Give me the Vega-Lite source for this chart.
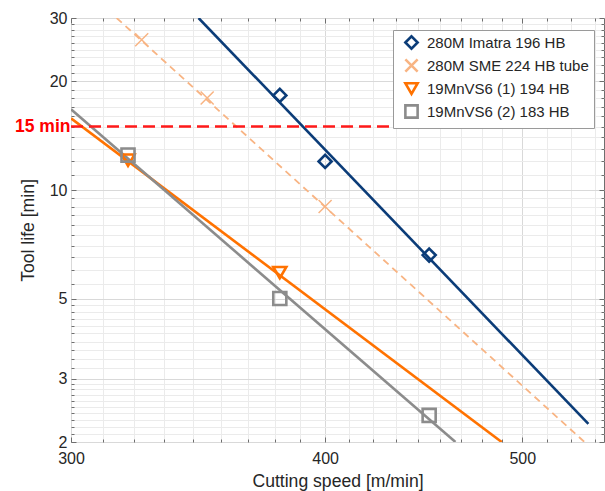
{
  "$schema": "https://vega.github.io/schema/vega-lite/v6.json",
  "width": 533,
  "height": 424,
  "autosize": "none",
  "padding": {"left": 71, "top": 18, "right": 1, "bottom": 49},
  "background": "white",
  "config": {
    "font": "Liberation Sans",
    "view": {"stroke": "#6e6e6e", "strokeWidth": 1},
    "axis": {
      "domain": false,
      "labelColor": "#262626",
      "titleColor": "#262626",
      "tickColor": "#6e6e6e",
      "labelFontSize": 16,
      "titleFontSize": 17.6,
      "titleFontWeight": "normal",
      "labelOverlap": false,
      "labelFlush": false,
      "labelBound": false
    }
  },
  "datasets": {
    "fits": [
      {"series": "280M Imatra 196 HB", "v": 346.6, "t": 30},
      {"series": "280M Imatra 196 HB", "v": 538.9, "t": 2.245},
      {"series": "280M SME 224 HB tube", "v": 315.9, "t": 30},
      {"series": "280M SME 224 HB tube", "v": 536.5, "t": 2},
      {"series": "19MnVS6 (1) 194 HB", "v": 300, "t": 15.8},
      {"series": "19MnVS6 (1) 194 HB", "v": 488.5, "t": 2},
      {"series": "19MnVS6 (2) 183 HB", "v": 300, "t": 16.74},
      {"series": "19MnVS6 (2) 183 HB", "v": 463.6, "t": 2}
    ],
    "obs": [
      {"series": "280M Imatra 196 HB", "v": 380, "t": 18.3},
      {"series": "280M Imatra 196 HB", "v": 400, "t": 12.0},
      {"series": "280M Imatra 196 HB", "v": 450, "t": 6.6},
      {"series": "280M SME 224 HB tube", "v": 325, "t": 26.1},
      {"series": "280M SME 224 HB tube", "v": 350, "t": 18.0},
      {"series": "280M SME 224 HB tube", "v": 400, "t": 9.0},
      {"series": "19MnVS6 (1) 194 HB", "v": 320, "t": 12.1},
      {"series": "19MnVS6 (1) 194 HB", "v": 380, "t": 5.9},
      {"series": "19MnVS6 (2) 183 HB", "v": 320, "t": 12.5},
      {"series": "19MnVS6 (2) 183 HB", "v": 380, "t": 5.0},
      {"series": "19MnVS6 (2) 183 HB", "v": 450, "t": 2.37}
    ],
    "ref": [{"v": 300, "v2": 450, "t": 15}]
  },
  "layer": [
    {
      "data": {"name": "fits"},
      "transform": [{"filter": "datum.series == '280M Imatra 196 HB'"}],
      "mark": {"type": "line", "strokeWidth": 2.6, "color": "#0b3c78", "clip": true},
      "encoding": {
        "x": {
          "field": "v", "type": "quantitative",
          "scale": {"type": "log", "domain": [300, 548.5], "nice": false},
          "axis": {
            "orient": "bottom",
            "title": "Cutting speed [m/min]",
            "values": [300,311.111,322.222,333.333,344.444,355.556,366.667,377.778,388.889,400,411.111,422.222,433.333,444.444,455.556,466.667,477.778,488.889,500,514.286,528.571,542.857],
            "labelExpr": "indexof([300,400,500], datum.value) >= 0 ? format(datum.value, 'd') : ''",
            "gridColor": {"condition": {"test": "indexof([300,400,500], datum.value) >= 0", "value": "#d9d9d9"}, "value": "#ebebeb"},
            "tickSize": {"condition": {"test": "indexof([300,400,500], datum.value) >= 0", "value": -5}, "value": -3},
            "labelPadding": 13,
            "titleX": 266.5,
            "titleY": 39,
            "titleBaseline": "middle"
          }
        },
        "y": {
          "field": "t", "type": "quantitative",
          "scale": {"type": "log", "domain": [2, 30], "nice": false},
          "axis": {
            "orient": "left",
            "title": "Tool life [min]",
            "values": [2,2.1,2.2,2.3,2.4,2.5,2.6,2.7,2.8,2.9,3,3.2,3.4,3.6,3.8,4,4.2,4.4,4.6,4.8,5,5.5,6,6.5,7,7.5,8,8.5,9,9.5,10,11,12,13,14,15,16,17,18,19,20,21.111,22.222,23.333,24.444,25.556,26.667,27.778,28.889,30],
            "labelExpr": "datum.value == 15 ? '15 min' : (indexof([2,3,5,10,20,30], datum.value) >= 0 ? format(datum.value, 'd') : '')",
            "labelColor": {"condition": {"test": "datum.value == 15", "value": "#ff0000"}, "value": "#262626"},
            "labelFontWeight": {"condition": {"test": "datum.value == 15", "value": "bold"}, "value": "normal"},
            "labelFontSize": {"condition": {"test": "datum.value == 15", "value": 17.5}, "value": 16},
            "labelPadding": {"condition": {"test": "datum.value == 15", "value": 4}, "value": 9},
            "gridColor": {"condition": {"test": "indexof([2,3,5,10,20,30], datum.value) >= 0", "value": "#d9d9d9"}, "value": "#ebebeb"},
            "tickSize": {"condition": {"test": "indexof([2,3,5,10,20,30], datum.value) >= 0", "value": -5}, "value": -3},
            "titleX": -43,
            "titleY": 212,
            "titleBaseline": "middle",
            "titleAngle": -90
          }
        }
      }
    },
    {
      "data": {"name": "fits"},
      "transform": [{"filter": "datum.series == '280M SME 224 HB tube'"}],
      "mark": {"type": "line", "strokeWidth": 1.8, "strokeDash": [7, 5], "color": "#f8b483", "clip": true},
      "encoding": {
        "x": {"field": "v", "type": "quantitative", "axis": null},
        "y": {"field": "t", "type": "quantitative", "axis": null}
      }
    },
    {
      "data": {"name": "fits"},
      "transform": [{"filter": "datum.series == '19MnVS6 (1) 194 HB'"}],
      "mark": {"type": "line", "strokeWidth": 2.6, "color": "#ff7200", "clip": true},
      "encoding": {
        "x": {"field": "v", "type": "quantitative", "axis": null},
        "y": {"field": "t", "type": "quantitative", "axis": null}
      }
    },
    {
      "data": {"name": "fits"},
      "transform": [{"filter": "datum.series == '19MnVS6 (2) 183 HB'"}],
      "mark": {"type": "line", "strokeWidth": 2.6, "color": "#8c8c8c", "clip": true},
      "encoding": {
        "x": {"field": "v", "type": "quantitative", "axis": null},
        "y": {"field": "t", "type": "quantitative", "axis": null}
      }
    },
    {
      "data": {"name": "ref"},
      "mark": {"type": "rule", "color": "#ff1a1a", "strokeWidth": 2.5, "strokeDash": [12, 6]},
      "encoding": {
        "x": {"field": "v", "type": "quantitative", "axis": null},
        "x2": {"field": "v2"},
        "y": {"field": "t", "type": "quantitative", "axis": null}
      }
    },
    {
      "data": {"name": "obs"},
      "mark": {"type": "point", "filled": false, "size": 170, "opacity": 1, "clip": true},
      "encoding": {
        "x": {
          "field": "v", "type": "quantitative",
          "axis": {
            "orient": "top", "labels": false, "grid": false, "title": null,
            "values": [300,311.111,322.222,333.333,344.444,355.556,366.667,377.778,388.889,400,411.111,422.222,433.333,444.444,455.556,466.667,477.778,488.889,500,514.286,528.571,542.857],
            "tickSize": {"condition": {"test": "indexof([300,400,500], datum.value) >= 0", "value": -5}, "value": -3}
          }
        },
        "y": {
          "field": "t", "type": "quantitative",
          "axis": {
            "orient": "right", "labels": false, "grid": false, "title": null,
            "values": [2,2.1,2.2,2.3,2.4,2.5,2.6,2.7,2.8,2.9,3,3.2,3.4,3.6,3.8,4,4.2,4.4,4.6,4.8,5,5.5,6,6.5,7,7.5,8,8.5,9,9.5,10,11,12,13,14,15,16,17,18,19,20,21.111,22.222,23.333,24.444,25.556,26.667,27.778,28.889,30],
            "tickSize": {"condition": {"test": "indexof([2,3,5,10,20,30], datum.value) >= 0", "value": -5}, "value": -3}
          }
        },
        "color": {
          "field": "series", "type": "nominal",
          "scale": {
            "domain": ["280M Imatra 196 HB", "280M SME 224 HB tube", "19MnVS6 (1) 194 HB", "19MnVS6 (2) 183 HB"],
            "range": ["#0b3c78", "#f8b483", "#ff7200", "#8c8c8c"]
          },
          "legend": {
            "title": null,
            "orient": "none",
            "legendX": 322,
            "legendY": 12,
            "padding": 5,
            "symbolOffset": 6,
            "rowPadding": 0,
            "labelOffset": 8,
            "labelFontSize": 15,
            "labelColor": "#262626",
            "symbolSize": 150,
            "symbolStrokeWidth": 2.6,
            "strokeColor": "#9a9a9a",
            "fillColor": "white",
            "labelLimit": 300
          }
        },
        "shape": {
          "field": "series", "type": "nominal",
          "scale": {
            "domain": ["280M Imatra 196 HB", "280M SME 224 HB tube", "19MnVS6 (1) 194 HB", "19MnVS6 (2) 183 HB"],
            "range": ["diamond", "M-1,-1L1,1M-1,1L1,-1", "triangle-down", "square"]
          }
        },
        "strokeWidth": {
          "condition": {"test": "datum.series == '280M SME 224 HB tube'", "value": 1.5},
          "value": 2.6
        }
      }
    }
  ],
  "resolve": {"axis": {"x": "independent", "y": "independent"}}
}
